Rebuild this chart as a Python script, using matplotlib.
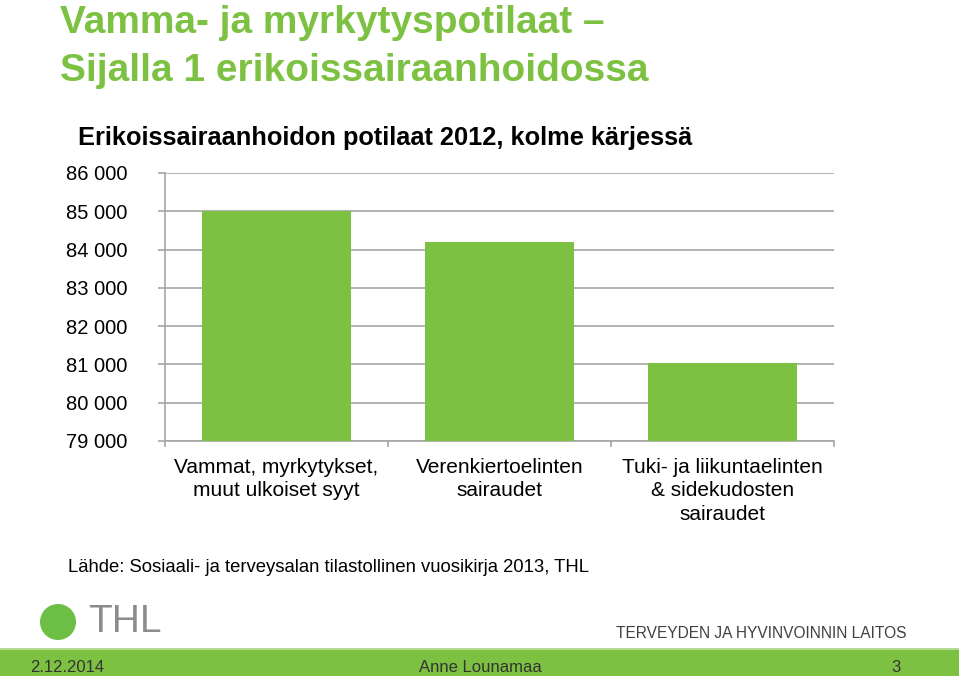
import matplotlib.pyplot as plt
from matplotlib.patches import Rectangle, Ellipse
import numpy as np

plt.rcParams['font.family'] = ['Liberation Sans', 'DejaVu Sans']

# Data
categories = ['Vammat, myrkytykset,\nmuut ulkoiset syyt',
              'Verenkiertoelinten\nsairaudet',
              'Tuki- ja liikuntaelinten\n& sidekudosten\nsairaudet']
patients = [85000, 84200, 81050]
y_ticks = [79000, 80000, 81000, 82000, 83000, 84000, 85000, 86000]

green = '#7DC142'
grid_col = '#A6A6A6'

fig = plt.figure(figsize=(9.59, 6.76), dpi=100)

# Slide texts
fig.text(60 / 959, 1 - 23 / 676, 'Vamma- ja myrkytyspotilaat \u2013', color=green,
         fontsize=28, fontweight='bold', va='center', ha='left')
fig.text(60 / 959, 1 - 71 / 676, 'Sijalla 1 erikoissairaanhoidossa', color=green,
         fontsize=28, fontweight='bold', va='center', ha='left')
fig.text(78 / 959, 1 - 138 / 676, 'Erikoissairaanhoidon potilaat 2012, kolme kärjessä',
         fontsize=18.3, fontweight='bold', va='center', ha='left')

# Chart
ax = fig.add_axes([165 / 959, 1 - 441 / 676, 669 / 959, 268 / 676])
x = np.arange(len(categories))
ax.bar(x, patients, width=0.665, color=green, zorder=3)
ax.set_ylim(79000, 86000)
ax.set_xlim(-0.5, 2.5)
ax.set_yticks(y_ticks)
ax.set_yticklabels([f'{v:,}'.replace(',', ' ') for v in y_ticks], fontsize=14.5)
ax.yaxis.grid(True, color=grid_col, linewidth=1.2, zorder=0)
ax.set_xticks([-0.5, 0.5, 1.5, 2.5])
ax.set_xticklabels([])
ax.tick_params(axis='y', length=5, color=grid_col, width=1.2, pad=22)
ax.tick_params(axis='x', length=4.5, color=grid_col, width=1.2)
for s in ['top', 'right']:
    ax.spines[s].set_visible(False)
for s in ['left', 'bottom']:
    ax.spines[s].set_color(grid_col)
    ax.spines[s].set_linewidth(1.2)
for i, c in enumerate(categories):
    ax.text(i, -0.062, c, transform=ax.get_xaxis_transform(), ha='center', va='top',
            fontsize=15, linespacing=1.3)

fig.text(68 / 959, 1 - 568 / 676,
         'Lähde: Sosiaali- ja terveysalan tilastollinen vuosikirja 2013, THL',
         fontsize=13.3, va='center', ha='left')

# Logo and footer
fig.patches.append(Ellipse((58 / 959, 1 - 622 / 676), 36 / 959, 36 / 676,
                           transform=fig.transFigure, facecolor='#6DBE45', edgecolor='none'))
fig.text(88 / 959, 1 - 622 / 676, 'THL', color='#8C8C8C', fontsize=28,
         va='center', ha='left')
fig.text(907 / 959, 1 - 633 / 676, 'TERVEYDEN JA HYVINVOINNIN LAITOS',
         color='#404040', fontsize=11.2, va='center', ha='right')
fig.patches.append(Rectangle((0, 0), 1, 26 / 676, transform=fig.transFigure,
                             facecolor=green, edgecolor='none'))
fig.patches.append(Rectangle((0, 26 / 676), 1, 2 / 676, transform=fig.transFigure,
                             facecolor='#B5DC95', edgecolor='none'))
fig.text(30 / 959, 1 - 668 / 676, '2.12.2014', color='#333333', fontsize=12, va='center')
fig.text(480 / 959, 1 - 668 / 676, 'Anne Lounamaa', color='#333333', fontsize=12,
         va='center', ha='center')
fig.text(896 / 959, 1 - 668 / 676, '3', color='#333333', fontsize=12, va='center',
         ha='center')

fig.savefig('out.png', dpi=100)
